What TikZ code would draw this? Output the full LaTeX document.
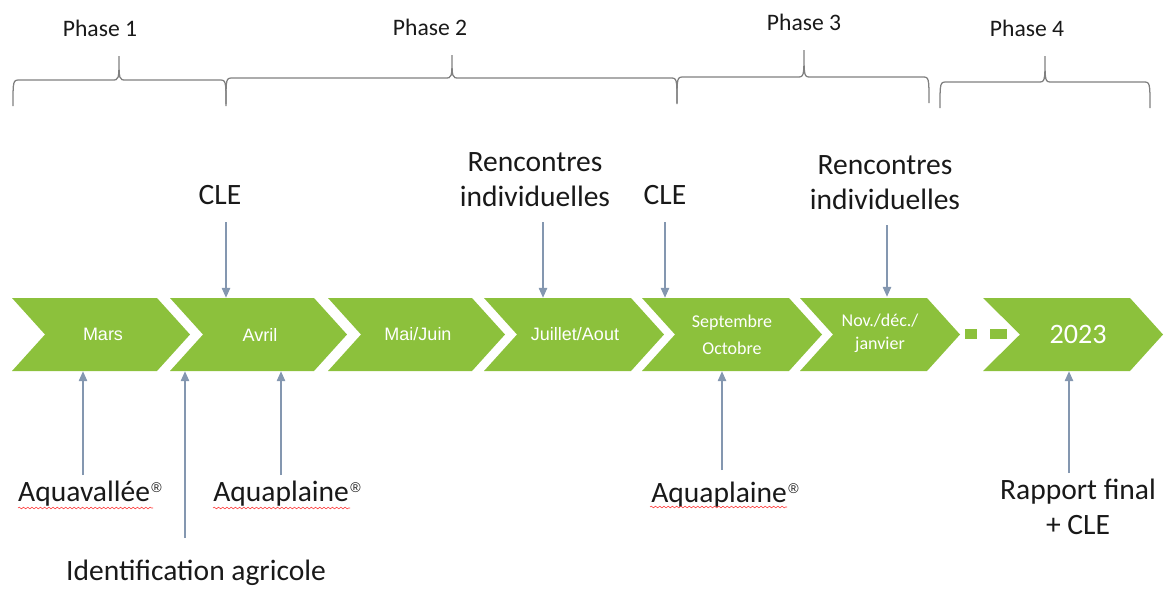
\documentclass[tikz,border=0pt]{standalone}
\usepackage{fontspec}
\setmainfont{Carlito}
\newfontfamily\arialfont{Liberation Sans}
\usetikzlibrary{arrows.meta}
\usetikzlibrary{decorations.pathmorphing}
\definecolor{leaf}{RGB}{140,193,60}
\definecolor{pinblue}{RGB}{132,151,176}
\definecolor{bracegray}{RGB}{128,128,128}

% brace: left x, tip x, right x, line y, tip y
\newcommand{\phasebrace}[5]{%
\draw[curly] (#1,#4+26) .. controls (#1,#4) .. (#1+7,#4) -- (#2-7,#4) .. controls (#2,#4) .. (#2,#5)
  .. controls (#2,#4) .. (#2+7,#4) -- (#3-7,#4) .. controls (#3,#4) .. (#3,#4+26);}
\newcommand{\regmark}{\kern1pt\raisebox{6.5pt}{\arialfont\fontsize{10}{10}\selectfont ®}}

\begin{document}
\begin{tikzpicture}[x=0.025cm, y=-0.025cm,
  month/.style={text=white, inner sep=0, minimum height=1.825cm, align=center, font=\arialfont\fontsize{12.8}{15}\selectfont},
  event/.style={align=center, text=black!90, font=\fontsize{21}{25}\selectfont},
  phase/.style={text=black!90, font=\fontsize{16.8}{20}\selectfont},
  pin/.style={draw=pinblue, line width=0.9pt, -{Triangle[length=7pt,width=6pt]}},
  curly/.style={draw=bracegray, line width=0.9pt},
  squiggle/.style={red!80, line width=0.4pt, decorate, decoration={snake, amplitude=0.6pt, segment length=3pt}}]

\useasboundingbox (0,0) rectangle (1164,588);

% phases
\phasebrace{13}{119}{226}{80}{56}
\phasebrace{226}{452}{677}{78}{55}
\phasebrace{677}{804}{929}{77}{50}
\phasebrace{940}{1045}{1150}{82}{56}

\node[phase] (p1) at (100,28) {Phase 1};
\node[phase] (p2) at (430,27) {Phase 2};
\node[phase] (p3) at (804,22) {Phase 3};
\node[phase] (p4) at (1027,28) {Phase 4};

% chevrons
\foreach \l/\t in {12/190,170/347,328/505,484/664,642/822,800/960}
{
\fill[leaf] (\l,298) -- (\t-33,298) -- (\t,334.5) -- (\t-33,371) -- (\l,371) -- (\l+33,334.5) -- cycle;
}
\fill[leaf] (983,298) -- (1130,298) -- (1163,334.5) -- (1130,371) -- (983,371) -- (1020,334.5) -- cycle;
\fill[leaf] (965,329) rectangle (977,339);
\fill[leaf] (990,329) rectangle (1007,339);

\node[month] (mars) at (103,334.5) {Mars};
\node[month] (avril) at (260,334.5) {Avril};
\node[month] (maijuin) at (418,334.5) {Mai/Juin};
\node[month] (juillet) at (575,334.5) {Juillet/Aout};
\node[month, font=\fontsize{12.8}{19}\selectfont] (septembre) at (732,334.5) {Septembre\\Octobre};
\node[month, font=\fontsize{12.8}{16.3}\selectfont] (novembre) at (880,333.5) {Nov./déc./\\janvier};
\node[month, font=\fontsize{20}{24}\selectfont] (an2023) at (1078,334.5) {2023};

% above
\node[event] (cle1) at (220,195) {CLE};
\node[event] (renc1) at (535,180) {Rencontres\\individuelles};
\node[event] (cle2) at (665,195) {CLE};
\node[event] (renc2) at (885,183) {Rencontres\\individuelles};

\coordinate (t1) at (226,222);
\coordinate (t2) at (543,222);
\coordinate (t3) at (665,222);
\coordinate (t4) at (887,225);
\draw[pin] (t1) -- (t1 |- avril.north);
\draw[pin] (t2) -- (t2 |- juillet.north);
\draw[pin] (t3) -- (t3 |- septembre.north);
\draw[pin] (t4) -- (t4 |- novembre.north);

% below
\node[event] (aquavallee) at (90,494) {Aquavallée\regmark};
\node[event] (aquaplaine1) at (287,494) {Aquaplaine\regmark};
\node[event] (aquaplaine2) at (725,495) {Aquaplaine\regmark};
\node[event] (identification) at (196,573) {Identification agricole};
\node[event] (rapport) at (1078,507) {Rapport final\\+ CLE};

\coordinate (b1) at (83,475);
\coordinate (b2) at (185,538);
\coordinate (b3) at (281,475);
\coordinate (b4) at (722,470);
\coordinate (b5) at (1069,473);
\draw[pin] (b1) -- (b1 |- mars.south);
\draw[pin] (b2) -- (b2 |- avril.south);
\draw[pin] (b3) -- (b3 |- avril.south);
\draw[pin] (b4) -- (b4 |- septembre.south);
\draw[pin] (b5) -- (b5 |- an2023.south);

\draw[squiggle] (18,508) -- (153,508);
\draw[squiggle] (213,508) -- (350,508);
\draw[squiggle] (650,507) -- (787,507);
\end{tikzpicture}
\end{document}
